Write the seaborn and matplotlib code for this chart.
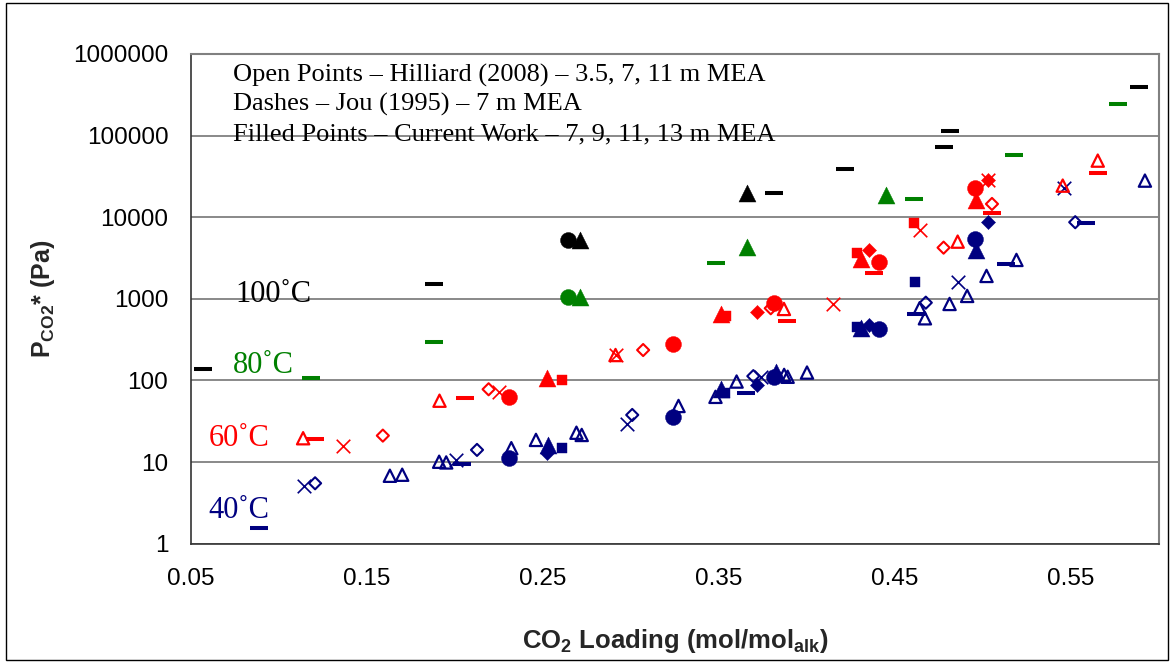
import matplotlib
matplotlib.use("Agg")
import matplotlib.pyplot as plt
import seaborn as sns
import pandas as pd
from matplotlib.patches import Rectangle
from matplotlib.ticker import NullLocator

# ---------------- data ----------------
# axis ticks
x_ticks = [0.05, 0.15, 0.25, 0.35, 0.45, 0.55]
x_ticklabels = ["0.05", "0.15", "0.25", "0.35", "0.45", "0.55"]
y_ticks = [1, 10, 100, 1000, 10000, 100000, 1000000]
y_ticklabels = ["1", "10", "100", "1000", "10000", "100000", "1000000"]

# 40 C
x40_hil_tri = [0.163, 0.170, 0.191, 0.195, 0.232, 0.246, 0.269, 0.272, 0.327, 0.348,
               0.360, 0.387, 0.389, 0.400, 0.464, 0.467, 0.481, 0.491, 0.502, 0.519, 0.592]
p40_hil_tri = [6.8, 7.0, 10.1, 9.9, 14.8, 18.7, 22.9, 21.5, 48.7, 63, 97, 117, 111, 125,
               767, 578, 866, 1086, 1909, 2999, 28100]
x40_hil_dia = [0.1205, 0.2125, 0.3007, 0.3695, 0.4675, 0.5524]
p40_hil_dia = [5.5, 14.1, 37.8, 113, 898, 8690]
x40_hil_x = [0.1143, 0.2007, 0.2978, 0.3737, 0.4856, 0.5462]
p40_hil_x = [5.1, 10.6, 29.1, 111, 1625, 23000]
x40_jou = [0.0887, 0.2038, 0.3651, 0.4618, 0.513, 0.5585]
p40_jou = [1.55, 9.5, 70.9, 648, 2655, 8590]
x40_circ = [0.2305, 0.3236, 0.3812, 0.4409, 0.4956]
p40_circ = [11.1, 36, 111, 428, 5375]
x40_tri = [0.2527, 0.3509, 0.3822, 0.4305, 0.496]
p40_tri = [16.2, 78, 128, 436, 3975]
x40_dia = [0.2523, 0.3718, 0.4353, 0.5026]
p40_dia = [13.0, 88, 479, 8690]
x40_sq = [0.2609, 0.3532, 0.4283, 0.4613]
p40_sq = [14.8, 70.9, 456, 1597]

# 60 C
x60_hil_tri = [0.1137, 0.1912, 0.2912, 0.3869, 0.4856, 0.5453, 0.5652]
p60_hil_tri = [19.6, 56.5, 205, 752, 5025, 24400, 49400]
x60_hil_dia = [0.159, 0.2191, 0.3069, 0.3794, 0.4776, 0.5051]
p60_hil_dia = [21.1, 78, 236, 767, 4240, 14550]
x60_hil_x = [0.1366, 0.2248, 0.2912, 0.415, 0.4641, 0.5026]
p60_hil_x = [15.7, 72.9, 205, 866, 6985, 28650]
x60_jou = [0.1205, 0.2059, 0.3888, 0.4381, 0.5051, 0.5654]
p60_jou = [19.2, 60.5, 541, 2094, 11380, 35200]
x60_circ = [0.2305, 0.3236, 0.3812, 0.4409, 0.4954]
p60_circ = [63.3, 278, 898, 2857, 22650]
x60_tri = [0.2523, 0.3509, 0.4305, 0.496]
p60_tri = [106, 653, 3055, 16300]
x60_dia = [0.3718, 0.4353, 0.5026]
p60_dia = [697, 3975, 28650]
x60_sq = [0.2609, 0.3538, 0.4283, 0.4609]
p60_sq = [101, 622, 3683, 8590]

# 80 C
x80_jou = [0.1183, 0.1878, 0.3481, 0.4606, 0.5175, 0.5766]
p80_jou = [106, 294, 2778, 16900, 58500, 242600]
x80_circ = [0.2643]
p80_circ = [1046]
x80_tri = [0.2713, 0.3661, 0.4448]
p80_tri = [1046, 4363, 18760]

# 100 C
x100_jou = [0.0568, 0.1879, 0.3812, 0.4218, 0.4777, 0.481, 0.5889]
p100_jou = [140, 1510, 20000, 39400, 73300, 115100, 398000]
x100_circ = [0.2643]
p100_circ = [5270]
x100_tri = [0.2713, 0.3661]
p100_tri = [5270, 19680]

temp_labels = ["40˚C", "60˚C", "80˚C", "100˚C"]
note_lines = ["Open Points – Hilliard (2008) – 3.5, 7, 11 m MEA",
              "Dashes – Jou (1995) – 7 m MEA",
              "Filled Points – Current Work – 7, 9, 11, 13 m MEA"]

# ---------------- assemble ----------------
series = [
    (40, "hil_tri", x40_hil_tri, p40_hil_tri), (40, "hil_dia", x40_hil_dia, p40_hil_dia),
    (40, "hil_x", x40_hil_x, p40_hil_x), (40, "jou", x40_jou, p40_jou),
    (40, "circ", x40_circ, p40_circ), (40, "tri", x40_tri, p40_tri),
    (40, "dia", x40_dia, p40_dia), (40, "sq", x40_sq, p40_sq),
    (60, "hil_tri", x60_hil_tri, p60_hil_tri), (60, "hil_dia", x60_hil_dia, p60_hil_dia),
    (60, "hil_x", x60_hil_x, p60_hil_x), (60, "jou", x60_jou, p60_jou),
    (60, "circ", x60_circ, p60_circ), (60, "tri", x60_tri, p60_tri),
    (60, "dia", x60_dia, p60_dia), (60, "sq", x60_sq, p60_sq),
    (80, "jou", x80_jou, p80_jou), (80, "circ", x80_circ, p80_circ), (80, "tri", x80_tri, p80_tri),
    (100, "jou", x100_jou, p100_jou), (100, "circ", x100_circ, p100_circ), (100, "tri", x100_tri, p100_tri),
]
rows = []
for t, kind, xs, ps in series:
    for xv, pv in zip(xs, ps):
        rows.append({"temp": t, "kind": kind, "loading": xv, "pressure": pv})
df = pd.DataFrame(rows)

colors = {40: "#000080", 60: "#FF0000", 80: "#008000", 100: "#000000"}
styles = {
    "hil_tri": dict(marker="^", s=78, open=True, lw=1.6),
    "hil_dia": dict(marker="D", s=38, open=True, lw=1.5),
    "hil_x": dict(marker="x", s=95, open=None, lw=1.2),
    "jou": dict(marker="_", s=150, open=None, lw=2.9),
    "circ": dict(marker="o", s=132, open=False, lw=0.3),
    "tri": dict(marker="^", s=150, open=False, lw=0.3),
    "dia": dict(marker="D", s=52, open=False, lw=0.3),
    "sq": dict(marker="s", s=60, open=False, lw=0.3),
}

# ---------------- figure ----------------
sns.set_style("white")
plt.rcParams["font.family"] = ["Liberation Sans", "DejaVu Sans"]

W, H = 1174, 663
fig = plt.figure(figsize=(W / 100, H / 100), dpi=100)
fig.patch.set_facecolor("white")

def fx(px):
    return px / W

def fy(py):
    return 1 - py / H

ax_l, ax_r, ax_t, ax_b = 191, 1159, 54, 543.7
ax = fig.add_axes([fx(ax_l), fy(ax_b), (ax_r - ax_l) / W, (ax_b - ax_t) / H])

for (t, kind), sub in df.groupby(["temp", "kind"], sort=False):
    st = styles[kind]
    c = colors[t]
    kw = dict(marker=st["marker"], s=st["s"], linewidth=st["lw"], zorder=3)
    if st["open"] is True:
        kw.update(facecolor="none", edgecolor=c, color=c)
    elif st["open"] is False:
        kw.update(color=c, edgecolor=c)
    else:
        kw.update(color=c)
    sns.scatterplot(data=sub, x="loading", y="pressure", ax=ax, legend=False, **kw)

ax.set_yscale("log")
ax.set_xlim(0.05, 0.60)
ax.set_ylim(1, 1e6)
ax.set_xticks(x_ticks)
ax.set_xticklabels(x_ticklabels)
ax.set_yticks(y_ticks)
ax.set_yticklabels(y_ticklabels)
ax.yaxis.set_minor_locator(NullLocator())
ax.xaxis.set_minor_locator(NullLocator())
ax.tick_params(axis="both", direction="out", length=5.8, width=1.0, color="#333333",
               labelsize=17.5, labelcolor="black")
ax.tick_params(axis="y", pad=10.5)
ax.tick_params(axis="x", pad=12)

ax.yaxis.grid(True, color="#808080", linewidth=1.3)
ax.xaxis.grid(False)
ax.set_axisbelow(True)
for side in ["left", "bottom"]:
    ax.spines[side].set_color("#333333")
    ax.spines[side].set_linewidth(1.2)
for side in ["top", "right"]:
    ax.spines[side].set_color("#808080")
    ax.spines[side].set_linewidth(1.5)

ax.set_xlabel(r"CO$_{\mathregular{2}}$ Loading (mol/mol$_{\mathregular{alk}}$)",
              fontsize=18.5, fontweight="bold")
ax.set_ylabel(r"P$_{\mathregular{CO2}}$* (Pa)", fontsize=18, fontweight="bold")
ax.xaxis.set_label_coords(0.5, (ax_b - 627) / (ax_b - ax_t))
ax.yaxis.set_label_coords((57 - ax_l) / (ax_r - ax_l), 0.5)

# notes
serif = ["Liberation Serif", "DejaVu Serif"]
for i, line in enumerate(note_lines):
    fig.text(fx(233), fy(81.7 + 29.2 * i), line, fontsize=19, family=serif,
             va="baseline", ha="left", color="black")

# temperature labels
temp_pos = [(208, 517.7), (209, 445.7), (233, 373.3), (235, 302.3)]
for lab, (px, py), t in zip(temp_labels, temp_pos, [40, 60, 80, 100]):
    fig.text(fx(px), fy(py), lab, fontsize=22, family=serif, va="baseline",
             ha="left", color=colors[t])

# outer chart border
fig.patches.append(Rectangle((fx(6), fy(660)), fx(1168) - fx(6), fy(3) - fy(660),
                             transform=fig.transFigure, fill=False, edgecolor="black",
                             linewidth=1.0))

fig.savefig("out.png", dpi=100, facecolor="white")
